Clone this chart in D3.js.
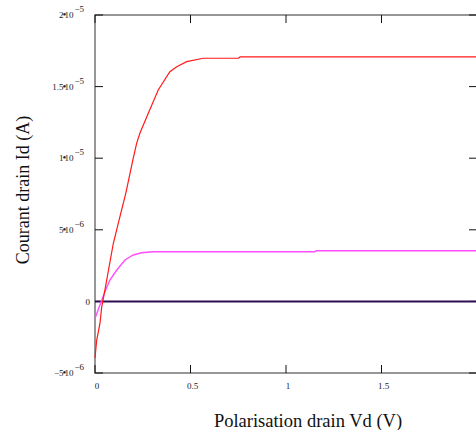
<!DOCTYPE html>
<html>
<head>
<meta charset="utf-8">
<script src="https://cdn.jsdelivr.net/npm/d3@7"></script>
<style>
  body { margin: 0; background: #fff; }
  svg { display: block; font-family: "Liberation Serif", "DejaVu Serif", serif; }
</style>
</head>
<body>
<svg id="chart" width="476" height="430"></svg>
<script>
// Vd (V) / Id (A, in units of 1e-6)
const redVd = [0, 0.009, 0.026, 0.035, 0.052, 0.096, 0.126, 0.162, 0.200, 0.218, 0.235, 0.279, 0.331, 0.392, 0.428, 0.480, 0.567, 0.750, 0.760, 2.0];
const redId = [-3.95, -2.70, -1.54, -0.4, 0.80, 4.06, 5.68, 7.6, 9.99, 11.04, 11.74, 13.14, 14.76, 16.04, 16.39, 16.74, 16.98, 16.98, 17.07, 17.07];

const magVd = [0, 0.026, 0.052, 0.078, 0.114, 0.157, 0.200, 0.244, 0.305, 1.150, 1.160, 2.0];
const magId = [-1.18, -0.25, 0.68, 1.49, 2.19, 2.89, 3.24, 3.40, 3.47, 3.47, 3.54, 3.54];

const navyVd = [0, 2.0];
const navyId = [0, 0];

const xTicks = [0, 0.5, 1, 1.5, 2];
const xTickLabels = ["0", "0.5", "1", "1.5"];
const yTicks = [-5, 0, 5, 10, 15, 20];
const yTickLabels = [["−5", "10", "−6"], ["0"], ["5", "10", "−6"], ["1", "10", "−5"], ["1.5", "10", "−5"], ["2", "10", "−5"]];

const svg = d3.select('#chart');

const mLeft = 95, mRight = 477, mTop = 15, mBottom = 373;

let xScale = d3.scaleLinear().domain([0, 2]).range([mLeft, mRight]);
let yScale = d3.scaleLinear().domain([-5, 20]).range([mBottom, mTop]);

// frame
svg.append('rect')
  .attr('x', mLeft).attr('y', mTop)
  .attr('width', mRight - mLeft).attr('height', mBottom - mTop)
  .attr('fill', 'none')
  .attr('stroke', '#6b6b6b')
  .attr('stroke-width', 1.4);

// y ticks (left and right, inward)
svg.selectAll('.ytick')
  .data(yTicks)
  .enter()
  .append('path')
  .attr('d', d => `M${mLeft},${yScale(d)}h8M${mRight},${yScale(d)}h-8`)
  .attr('stroke', '#111')
  .attr('stroke-width', 1);

// x ticks (bottom and top, inward)
svg.selectAll('.xtick')
  .data(xTicks)
  .enter()
  .append('path')
  .attr('d', d => `M${xScale(d)},${mBottom}v-8M${xScale(d)},${mTop}v8`)
  .attr('stroke', '#111')
  .attr('stroke-width', 1);

// x tick labels (the one at 2 falls outside the picture)
svg.selectAll('.xlab')
  .data(xTickLabels)
  .enter()
  .append('text')
  .attr('x', (d, i) => xScale(xTicks[i]) + 2)
  .attr('y', mBottom + 16)
  .attr('text-anchor', 'middle')
  .attr('font-size', 9)
  .attr('fill', '#222')
  .text(d => d);

// y tick labels: mantissa•10^exp
yTicks.forEach((d, i) => {
  const parts = yTickLabels[i];
  const y = yScale(d) + 3;
  if (parts.length === 1) {
    svg.append('text')
      .attr('x', mLeft - 5).attr('y', y + 1)
      .attr('text-anchor', 'end')
      .attr('font-size', 9).attr('fill', '#222')
      .text(parts[0]);
    return;
  }
  const t = svg.append('text')
    .attr('x', 84).attr('y', y)
    .attr('text-anchor', 'end')
    .attr('font-size', 9).attr('fill', '#222');
  t.append('tspan').text(parts[0]);
  t.append('tspan').attr('font-size', 11).attr('dx', -1).text('•');
  t.append('tspan').attr('dx', -2).text(parts[1]);
  t.append('tspan').attr('dy', -6).attr('dx', 1).text(parts[2]);
});

// curves
const line = d3.line()
  .x(d => xScale(d[0]))
  .y(d => yScale(d[1]));

const series = [
  { vd: navyVd, id: navyId, color: '#2e0d52', width: 2 },
  { vd: magVd, id: magId, color: '#ff4dff', width: 1.4 },
  { vd: redVd, id: redId, color: '#ff1a1a', width: 1.2 }
];

svg.selectAll('.curve')
  .data(series)
  .enter()
  .append('path')
  .attr('fill', 'none')
  .attr('stroke', d => d.color)
  .attr('stroke-width', d => d.width)
  .attr('d', d => line(d.vd.map((v, i) => [v, d.id[i]])));

// axis titles
svg.append('text')
  .attr('x', 308).attr('y', 427)
  .attr('text-anchor', 'middle')
  .attr('font-size', 18.5)
  .attr('fill', '#111')
  .text('Polarisation drain Vd (V)');

svg.append('text')
  .attr('transform', 'translate(29,190) rotate(-90)')
  .attr('text-anchor', 'middle')
  .attr('font-size', 18)
  .attr('fill', '#111')
  .text('Courant drain Id (A)');
</script>
</body>
</html>
